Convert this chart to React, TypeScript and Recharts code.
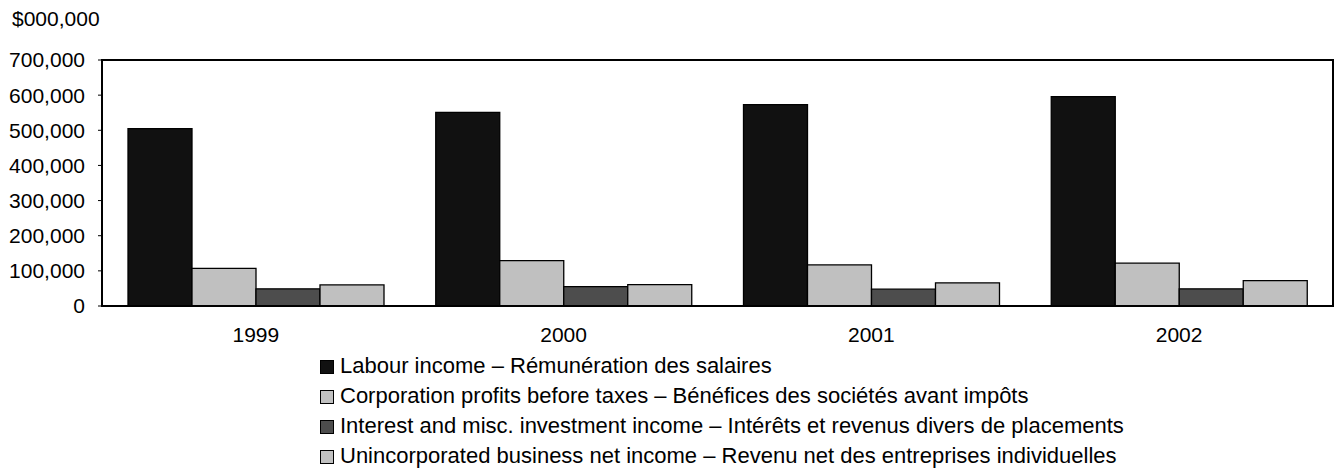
import React from "react";
import {
  BarChart,
  Bar,
  XAxis,
  YAxis,
  ReferenceArea,
} from "recharts";

const years = ["1999", "2000", "2001", "2002"];
const labour = [505000, 551000, 573000, 596000];
const corporate = [107000, 129000, 117000, 122000];
const interest = [49000, 55000, 48000, 49000];
const unincorporated = [60000, 61000, 66000, 72000];
const yTicks = [0, 100000, 200000, 300000, 400000, 500000, 600000, 700000];

const series = [
  { key: "labour", name: "Labour income – Rémunération des salaires", color: "#111111" },
  { key: "corporate", name: "Corporation profits before taxes – Bénéfices des sociétés avant impôts", color: "#c0c0c0" },
  { key: "interest", name: "Interest and misc. investment income – Intérêts et revenus divers de placements", color: "#4d4d4d" },
  { key: "unincorporated", name: "Unincorporated business net income – Revenu net des entreprises individuelles", color: "#c0c0c0" },
];

const data = years.map((year, i) => ({
  year,
  labour: labour[i],
  corporate: corporate[i],
  interest: interest[i],
  unincorporated: unincorporated[i],
}));

const font = "Arial, 'Liberation Sans', sans-serif";
const fmt = (v: number) => v.toLocaleString("en-US");

export default function App() {
  return (
    <div
      style={{
        position: "absolute",
        left: 0,
        top: 0,
        width: 1335,
        height: 470,
        background: "#fff",
        fontFamily: font,
        color: "#000",
      }}
    >
      <div
        style={{
          position: "absolute",
          left: 12,
          top: 8,
          fontSize: 21,
          lineHeight: "21px",
        }}
      >
        $000,000
      </div>
      <BarChart
        width={1335}
        height={350}
        data={data}
        margin={{ top: 60, right: 2, bottom: 0, left: 0 }}
        barCategoryGap={26}
        barGap={0}
      >
        <XAxis
          dataKey="year"
          height={44}
          tickLine={false}
          tickSize={0}
          tickMargin={21}
          axisLine={{ stroke: "#000", strokeWidth: 2 }}
          tick={{ fill: "#000", fontSize: 21, fontFamily: font }}
        />
        <YAxis
          width={102}
          domain={[0, 700000]}
          ticks={yTicks}
          tickFormatter={fmt}
          tickSize={4}
          tickMargin={13}
          tickLine={{ stroke: "#000" }}
          axisLine={{ stroke: "#000", strokeWidth: 2 }}
          tick={{ fill: "#000", fontSize: 21, fontFamily: font }}
          allowDataOverflow
        />
        <ReferenceArea
          y1={0}
          y2={700000}
          fill="none"
          stroke="#000"
          strokeWidth={2}
          ifOverflow="visible"
        />
        {series.map((s) => (
          <Bar
            key={s.key}
            dataKey={s.key}
            name={s.name}
            fill={s.color}
            stroke="#000"
            strokeWidth={1.3}
            isAnimationActive={false}
          />
        ))}
      </BarChart>
      <div style={{ position: "absolute", left: 320, top: 351 }}>
        {series.map((s) => (
          <div
            key={s.key}
            style={{
              display: "flex",
              alignItems: "center",
              height: 30,
              fontSize: 22,
              lineHeight: "30px",
              whiteSpace: "nowrap",
            }}
          >
            <span
              style={{
                display: "inline-block",
                width: 12,
                height: 12,
                background: s.color,
                border: "1.5px solid #000",
                marginRight: 6,
                marginTop: 2,
              }}
            />
            {s.name}
          </div>
        ))}
      </div>
    </div>
  );
}
